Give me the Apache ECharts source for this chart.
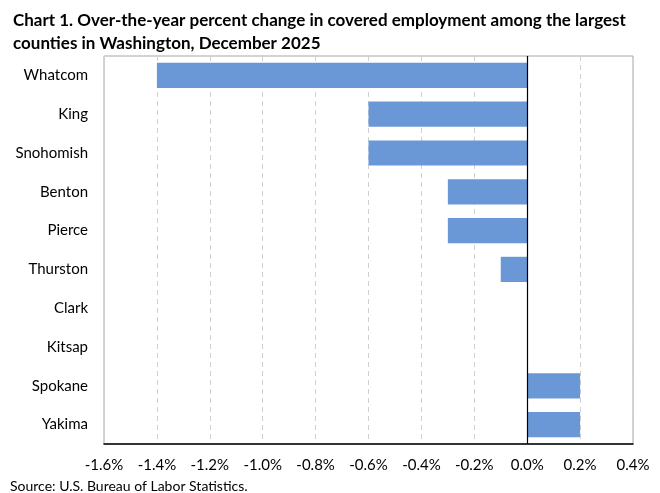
<!DOCTYPE html>
<html>
<head>
<meta charset="utf-8">
<script src="https://cdn.jsdelivr.net/npm/echarts@6/dist/echarts.min.js"></script>
<style>
html,body{margin:0;padding:0;background:#fff;}
#main{width:660px;height:493px;}
</style>
</head>
<body>
<div id="main"></div>
<script>
var counties = ['Whatcom', 'King', 'Snohomish', 'Benton', 'Pierce', 'Thurston', 'Clark', 'Kitsap', 'Spokane', 'Yakima'];
var changes = [-1.4, -0.6, -0.6, -0.3, -0.3, -0.1, 0.0, 0.0, 0.2, 0.2];
var axisMin = -1.6, axisMax = 0.4, axisStep = 0.2;

var myChart = echarts.init(document.getElementById('main'));
var option = {
    animation: false,
    backgroundColor: '#fff',
    textStyle: { fontFamily: 'Lato' },
    title: {
        text: 'Chart 1. Over-the-year percent change in covered employment among the largest\ncounties in Washington, December 2025',
        left: 8,
        top: 4,
        textStyle: { fontFamily: 'Lato', fontSize: 17, fontWeight: 'bold', color: '#000', lineHeight: 23 }
    },
    graphic: [{
        type: 'text',
        left: 10,
        top: 479,
        style: { text: 'Source: U.S. Bureau of Labor Statistics.', font: '14px Lato', fill: '#000' }
    }, {
        // plot area border (gray)
        type: 'rect',
        shape: { x: 104, y: 56, width: 529, height: 388 },
        style: { fill: 'none', stroke: '#a6a6a6', lineWidth: 1 },
        z: 0
    }],
    grid: { left: 104, right: 27, top: 56, bottom: 49, containLabel: false },
    xAxis: {
        type: 'value',
        min: axisMin,
        max: axisMax,
        interval: axisStep,
        axisLine: { show: true, onZero: false, lineStyle: { color: '#000', width: 1.5 } },
        axisTick: { show: false },
        axisLabel: {
            margin: 14,
            fontSize: 15,
            color: '#000',
            formatter: function (v) { return v.toFixed(1) + '%'; }
        },
        splitLine: { show: true, lineStyle: { color: '#d0d0d0', type: [5, 4] } }
    },
    yAxis: {
        type: 'category',
        inverse: true,
        data: counties,
        axisLine: { show: false },
        axisTick: { show: false },
        axisLabel: { margin: 16, fontSize: 15, color: '#000' }
    },
    series: [{
        type: 'bar',
        data: changes,
        barCategoryGap: '35%',
        itemStyle: { color: '#6a97d5' },
        markLine: {
            silent: true,
            symbol: 'none',
            label: { show: false },
            lineStyle: { color: '#000', type: 'solid', width: 1.2 },
            data: [{ xAxis: 0 }]
        }
    }]
};
myChart.setOption(option);
</script>
</body>
</html>
